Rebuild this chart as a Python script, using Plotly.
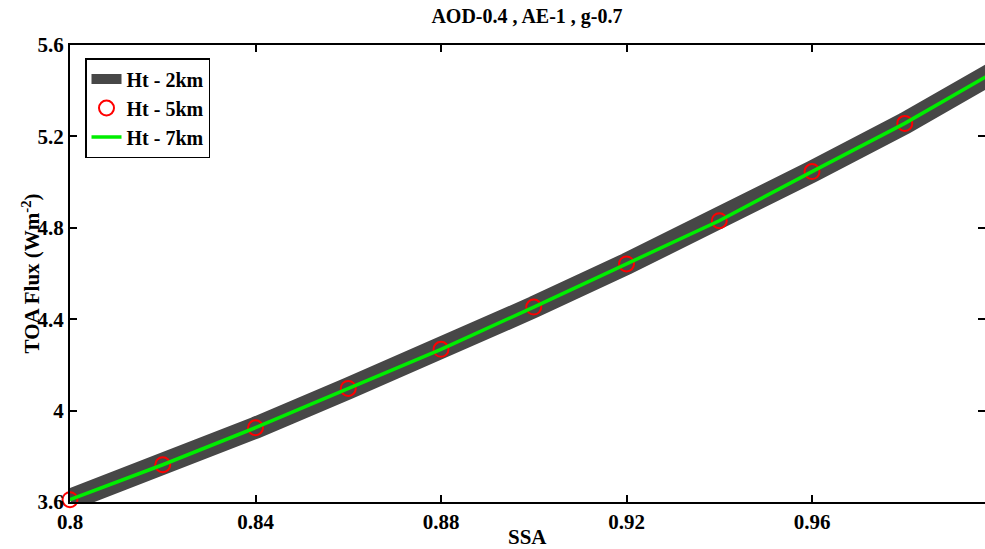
import plotly.graph_objects as go

# Data
ssa = [0.80, 0.82, 0.84, 0.86, 0.88, 0.90, 0.92, 0.94, 0.96, 0.98, 1.00]
flux_2km = [3.61, 3.763, 3.925, 4.097, 4.268, 4.453, 4.642, 4.831, 5.046, 5.257, 5.49]
flux_5km = [3.61, 3.763, 3.925, 4.097, 4.268, 4.453, 4.642, 4.831, 5.046, 5.257, 5.49]
flux_7km = [3.61, 3.763, 3.925, 4.097, 4.268, 4.453, 4.642, 4.831, 5.046, 5.257, 5.49]

x_ticks = [0.80, 0.84, 0.88, 0.92, 0.96]
x_ticklabels = ["<b>0.8</b>", "<b>0.84</b>", "<b>0.88</b>", "<b>0.92</b>", "<b>0.96</b>"]
y_ticks = [3.6, 4.0, 4.4, 4.8, 5.2, 5.6]
y_ticklabels = ["<b>3.6</b>", "<b>4</b>", "<b>4.4</b>", "<b>4.8</b>", "<b>5.2</b>", "<b>5.6</b>"]

FONT = "Liberation Serif"
W, H = 985, 549
ML, MR, MT, MB = 70, 0, 45, 47

fig = go.Figure()
fig.add_trace(go.Scatter(
    x=ssa, y=flux_2km, mode="lines", name="<b>Ht - 2km</b>",
    line=dict(color="#474747", width=22),
))
fig.add_trace(go.Scatter(
    x=ssa, y=flux_5km, mode="markers", name="<b>Ht - 5km</b>", cliponaxis=False,
    marker=dict(symbol="circle-open", size=15, color="#ff0000",
                line=dict(color="#ff0000", width=2)),
))
fig.add_trace(go.Scatter(
    x=ssa, y=flux_7km, mode="lines", name="<b>Ht - 7km</b>",
    line=dict(color="#00ee00", width=3.5),
))

ph = H - MT - MB
fig.update_layout(
    width=W, height=H,
    margin=dict(l=ML, r=MR, t=MT, b=MB, autoexpand=False),
    paper_bgcolor="white", plot_bgcolor="white",
    font=dict(family=FONT, size=21, color="black"),
    title=dict(text="<b>AOD-0.4 , AE-1 , g-0.7</b>", x=0.535, xanchor="center",
               y=1 - 16 / H, yanchor="middle", yref="container",
               font=dict(family=FONT, size=20, color="black")),
    showlegend=True,
    legend=dict(x=15 / (W - ML - MR), y=1 - 13 / ph, xanchor="left", yanchor="top",
                bgcolor="white", bordercolor="black", borderwidth=1.5,
                font=dict(family=FONT, size=20, color="black"),
                tracegroupgap=0, itemwidth=30),
    xaxis=dict(range=[0.8, 0.9973], tickvals=x_ticks, ticktext=x_ticklabels,
               ticks="inside", ticklen=7, tickwidth=1.5, tickcolor="black",
               showline=True, linecolor="black", linewidth=2, mirror="ticks",
               showgrid=False, zeroline=False, automargin=False,
               tickfont=dict(family=FONT, size=21, color="black")),
    yaxis=dict(range=[3.6, 5.6], tickvals=y_ticks, ticktext=y_ticklabels,
               ticks="inside", ticklen=7, tickwidth=1.5, tickcolor="black",
               showline=True, linecolor="black", linewidth=2, mirror="ticks",
               showgrid=False, zeroline=False, automargin=False,
               tickfont=dict(family=FONT, size=21, color="black")),
    annotations=[
        dict(text="<b>SSA</b>", xref="paper", yref="paper",
             x=0.5, y=-(537 - (H - MB)) / ph, xanchor="center", yanchor="middle",
             showarrow=False, font=dict(family=FONT, size=21, color="black")),
        dict(text="<b>TOA Flux (Wm<sup>-2</sup>)</b>", xref="paper", yref="paper",
             x=-(ML - 31) / (W - ML - MR), y=0.5, xanchor="center", yanchor="middle",
             textangle=-90, showarrow=False,
             font=dict(family=FONT, size=21, color="black")),
    ],
)

fig.write_html(
    "out.html",
    config={"displayModeBar": False},
    post_script="document.body.style.margin='0';document.body.style.overflow='hidden';",
)
